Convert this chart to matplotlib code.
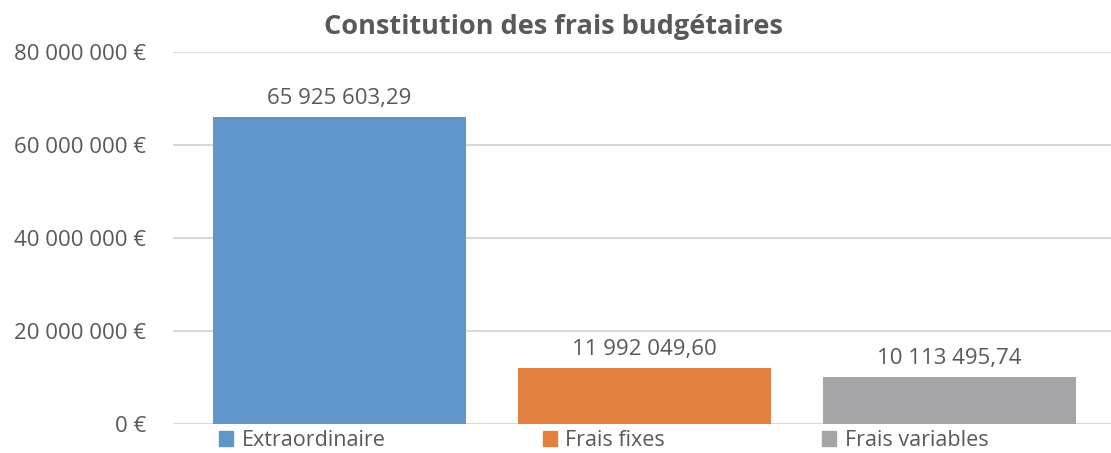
import matplotlib.pyplot as plt
from matplotlib.patches import Patch
from matplotlib.ticker import FuncFormatter

categories = ["Extraordinaire", "Frais fixes", "Frais variables"]
values = [65925603.29, 11992049.60, 10113495.74]
value_labels = ["65 925 603,29", "11 992 049,60", "10 113 495,74"]
colors = ["#6096C9", "#E3803F", "#A5A5A8"]

txt = "#595959"
plt.rcParams['font.family'] = ['Open Sans', 'DejaVu Sans']

fig = plt.figure(figsize=(11.11, 4.53), dpi=100)
ax = fig.add_axes([173 / 1111, 1 - 424 / 453, (1111 - 173) / 1111, (424 - 52) / 453])

x = range(len(categories))
bars = ax.bar(x, values, width=0.83, color=colors, zorder=2)

for b, lab in zip(bars, value_labels):
    ax.annotate(lab, (b.get_x() + b.get_width() / 2, b.get_height()),
                xytext=(0, 6), textcoords="offset points",
                ha="center", va="bottom", fontsize=16, color=txt)

ax.set_ylim(0, 80000000)
ax.set_xlim(-0.546, 2.53)
ax.set_yticks([0, 20000000, 40000000, 60000000, 80000000])
ax.yaxis.set_major_formatter(FuncFormatter(lambda v, p: f"{int(v):,} €".replace(",", " ")))
ax.set_xticks([])
ax.tick_params(axis="y", length=0, labelsize=16, labelcolor=txt, pad=19.5)
ax.grid(axis="y", color="#D9D9D9", linewidth=1.5, zorder=0)
for s in ax.spines.values():
    s.set_visible(False)

handles = [Patch(color=c) for c in colors]
ax.legend(handles, categories, ncol=3, loc="upper left", bbox_to_anchor=(219 / 1111, 1 - 430 / 453),
          bbox_transform=fig.transFigure, frameon=False, fontsize=15.5, labelcolor=txt,
          handlelength=0.65, handleheight=0.65, handletextpad=0.4, columnspacing=7.3,
          borderaxespad=0, borderpad=0)

fig.suptitle("Constitution des frais budgétaires", x=553 / 1111, y=1 - 14 / 453, va="top",
             fontsize=19.5, fontweight="bold", color=txt)

fig.savefig("out.png", dpi=100)
